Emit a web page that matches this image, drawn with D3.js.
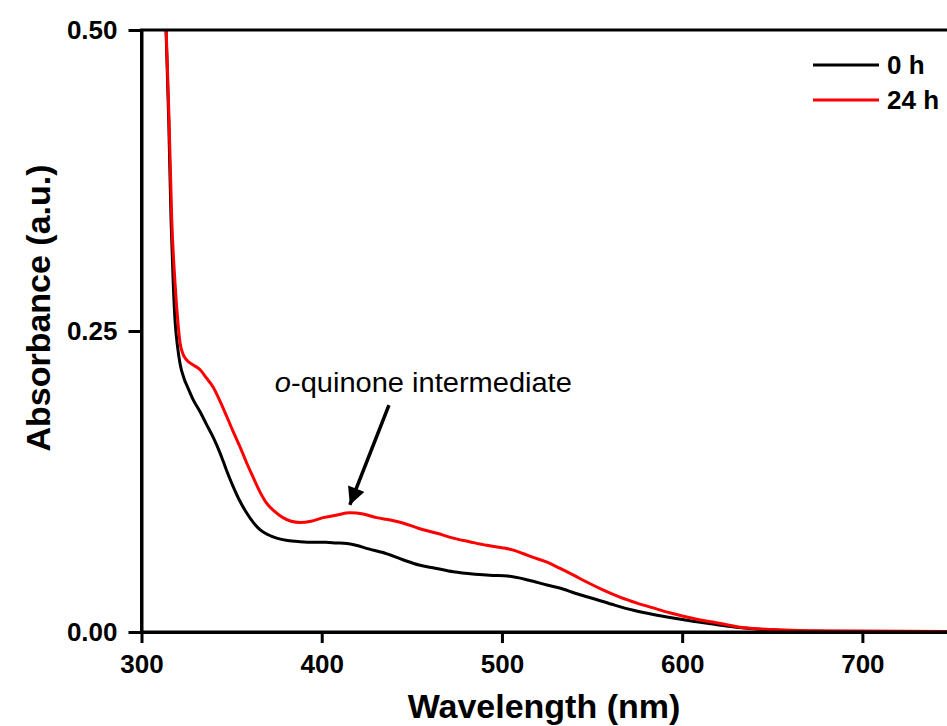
<!DOCTYPE html>
<html>
<head>
<meta charset="utf-8">
<script src="https://cdn.jsdelivr.net/npm/d3@7"></script>
<style>
	body { margin: 0; background: #fff; }
	text { font-family: "Liberation Sans", Arial, sans-serif; }
</style>
</head>
<body>
<div id="chart"></div>
<script>
// spectra: [wavelength nm, absorbance]
const spectrum0h = [
	[311, 0.62], [313.6, 0.50], [315.1, 0.425], [316.4, 0.342], [317.6, 0.29], [318.6, 0.259],
	[320, 0.237], [321.5, 0.222], [323.5, 0.211], [326, 0.202], [329, 0.192], [332.5, 0.183],
	[336.2, 0.172], [340, 0.161], [343.5, 0.149], [347, 0.135], [350.8, 0.121], [354.5, 0.109],
	[358.3, 0.099], [362, 0.091], [365.7, 0.085], [370, 0.081], [375, 0.078], [381, 0.076],
	[388, 0.075], [395, 0.0745], [402, 0.0745], [408, 0.074], [414, 0.0735], [419, 0.072],
	[426, 0.069], [434, 0.066], [445, 0.060], [454, 0.0556], [463, 0.053], [473, 0.050],
	[485, 0.048], [495, 0.047], [503, 0.0465], [515, 0.043], [525, 0.039], [532, 0.0365],
	[541, 0.032], [550, 0.028], [561, 0.023], [573, 0.018], [584, 0.0145], [595, 0.0116],
	[606, 0.009], [617, 0.0066], [630, 0.004], [645, 0.002], [660, 0.001], [680, 0.0005],
	[700, 0.0003], [750, 0.0002]
]
const spectrum24h = [
	[311, 0.63], [313.7, 0.50], [315.3, 0.425], [316.8, 0.342], [318.6, 0.29], [320.1, 0.259],
	[321.4, 0.240], [323, 0.231], [325, 0.226], [328.5, 0.222], [332.4, 0.218], [336, 0.211],
	[339.7, 0.2035], [343.5, 0.192], [347.3, 0.179], [351, 0.166], [354.6, 0.154], [358.2, 0.141],
	[361.8, 0.129], [365.5, 0.117], [369.4, 0.107], [374, 0.100], [378.5, 0.095], [383, 0.092],
	[388, 0.091], [394, 0.092], [400.7, 0.095], [408, 0.097], [415.6, 0.099], [423, 0.098],
	[430.4, 0.095], [438, 0.093], [445, 0.0905], [454, 0.086], [464, 0.082], [473, 0.078],
	[482, 0.075], [491.5, 0.072], [500, 0.070], [506.3, 0.068], [512, 0.065], [517.3, 0.062],
	[525, 0.058], [532, 0.053], [540, 0.047], [547, 0.0415], [556, 0.035], [565.4, 0.029],
	[575, 0.024], [584, 0.020], [593, 0.016], [602.5, 0.0125], [610, 0.010], [617, 0.0083],
	[632, 0.004], [650, 0.002], [670, 0.001], [700, 0.0008], [750, 0.0005]
]
const seriesNames = ["0 h", "24 h"]
const seriesColors = ["#000000", "#ff0000"]
const xTicks = [300, 400, 500, 600, 700]
const yTicks = [0.00, 0.25, 0.50]
const xDomain = [300, 750]
const yDomain = [0, 0.5]
// annotation: label anchor and arrow from tail to tip, in data units
const noteLabel = [374, 0.199]
const noteArrow = [[437.3, 0.1885], [415.6, 0.1055]]

let width = 947
let height = 726
let margin = {top: 30, left: 141.5}
let plotW = 811
let plotH = 602

const svg = d3.select("#chart")
	.append("svg")
	.attr("width", width)
	.attr("height", height)

let x = d3.scaleLinear().domain(xDomain).range([0, plotW])
let y = d3.scaleLinear().domain(yDomain).range([plotH, 0])

const g = svg.append("g")
	.attr("transform", "translate(" + margin.left + "," + margin.top + ")")

g.append("defs").append("clipPath")
	.attr("id", "plotclip")
	.append("rect")
	.attr("width", plotW)
	.attr("height", plotH)

// curves
let line = d3.line().x(d => x(d[0])).y(d => y(d[1])).curve(d3.curveMonotoneX)
let spectra = [spectrum0h, spectrum24h]
g.append("g").attr("clip-path", "url(#plotclip)")
	.selectAll(".spec")
	.data(spectra)
	.enter().append("path")
	.attr("class", "spec")
	.attr("d", d => line(d))
	.attr("fill", "none")
	.attr("stroke", (d, i) => seriesColors[i])
	.attr("stroke-width", 3)
	.attr("stroke-linejoin", "round")

// frame: top line and right line
g.append("rect")
	.attr("width", plotW)
	.attr("height", plotH)
	.attr("fill", "none")
	.attr("stroke", "#000")
	.attr("stroke-width", 3)

// axes
const xAxis = g.append("g")
	.attr("transform", "translate(0," + plotH + ")")
	.call(d3.axisBottom(x).tickValues(xTicks).tickSize(11).tickSizeOuter(0).tickPadding(12).tickFormat(d3.format("d")))
const yAxis = g.append("g")
	.call(d3.axisLeft(y).tickValues(yTicks).tickSize(13).tickSizeOuter(0).tickPadding(11).tickFormat(d3.format(".2f")))

;[xAxis, yAxis].forEach(a => {
	a.select(".domain").attr("stroke-width", 3)
	a.selectAll(".tick line").attr("stroke-width", 3)
	a.selectAll(".tick text")
		.style("font-family", "'Liberation Sans', Arial, sans-serif")
		.style("font-size", "26px")
		.style("font-weight", "bold")
		.attr("fill", "#000")
})

// axis titles
svg.append("text")
	.attr("x", 544)
	.attr("y", 718)
	.attr("text-anchor", "middle")
	.style("font-size", "34px")
	.style("font-weight", "bold")
	.text("Wavelength (nm)")

svg.append("text")
	.attr("transform", "translate(50,308) rotate(-90)")
	.attr("text-anchor", "middle")
	.style("font-size", "34px")
	.style("font-weight", "bold")
	.text("Absorbance (a.u.)")

// legend
const legend = svg.append("g")
seriesNames.forEach((name, i) => {
	let ly = 65 + i * 35
	legend.append("line")
		.attr("x1", 813).attr("x2", 879)
		.attr("y1", ly).attr("y2", ly)
		.attr("stroke", seriesColors[i])
		.attr("stroke-width", 3)
	legend.append("text")
		.attr("x", 887)
		.attr("y", ly + 9)
		.style("font-size", "26px")
		.style("font-weight", "bold")
		.text(name)
})

// annotation
svg.append("defs").append("marker")
	.attr("id", "arrowhead")
	.attr("viewBox", "0 0 10 10")
	.attr("refX", 10)
	.attr("refY", 5)
	.attr("markerWidth", 5.5)
	.attr("markerHeight", 5)
	.attr("markerUnits", "strokeWidth")
	.attr("orient", "auto")
	.append("path")
	.attr("d", "M0,0L10,5L0,10z")
	.attr("fill", "#000")

g.append("line")
	.attr("x1", x(noteArrow[0][0])).attr("y1", y(noteArrow[0][1]))
	.attr("x2", x(noteArrow[1][0])).attr("y2", y(noteArrow[1][1]))
	.attr("stroke", "#000")
	.attr("stroke-width", 3.5)
	.attr("marker-end", "url(#arrowhead)")

const note = g.append("text")
	.attr("x", x(noteLabel[0]))
	.attr("y", y(noteLabel[1]))
	.attr("textLength", 297)
	.attr("lengthAdjust", "spacingAndGlyphs")
	.style("font-size", "27.5px")
note.append("tspan").style("font-style", "italic").text("o")
note.append("tspan").text("-quinone intermediate")
</script>
</body>
</html>
